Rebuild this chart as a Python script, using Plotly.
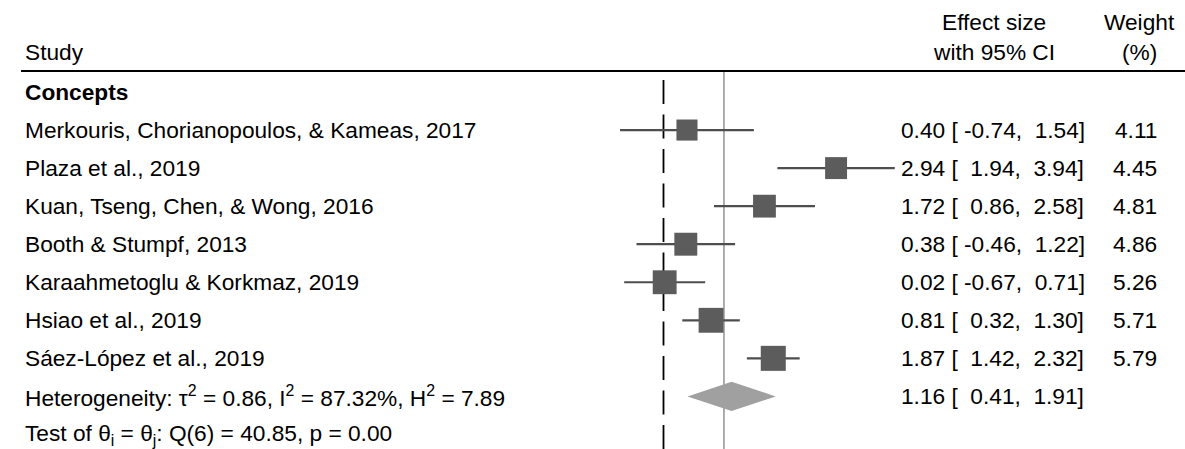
import plotly.graph_objects as go

# ---- data -------------------------------------------------------------
group_label = "Concepts"
studies = [
    "Merkouris, Chorianopoulos, & Kameas, 2017",
    "Plaza et al., 2019",
    "Kuan, Tseng, Chen, & Wong, 2016",
    "Booth & Stumpf, 2013",
    "Karaahmetoglu & Korkmaz, 2019",
    "Hsiao et al., 2019",
    "Sáez-López et al., 2019",
]
effect = [0.40, 2.94, 1.72, 0.38, 0.02, 0.81, 1.87]
ci_low = [-0.74, 1.94, 0.86, -0.46, -0.67, 0.32, 1.42]
ci_high = [1.54, 3.94, 2.58, 1.22, 0.71, 1.30, 2.32]
weight = [4.11, 4.45, 4.81, 4.86, 5.26, 5.71, 5.79]

overall = 1.16
overall_low = 0.41
overall_high = 1.91
heterogeneity_text = "Heterogeneity: τ<sup>2</sup> = 0.86, I<sup>2</sup> = 87.32%, H<sup>2</sup> = 7.89"
test_text = "Test of θ<sub>i</sub> = θ<sub>j</sub>: Q(6) = 40.85, p = 0.00"

null_line = 0.0
ref_line = 1.03

# ---- layout constants -------------------------------------------------
W, H = 1185, 449
FONT = "Liberation Sans, Arial, sans-serif"
FS = 22.7

# x: pixel = 663.5 + 58.7 * value
X0_PX, X_SCALE = 663.5, 58.7
x_range = [(0 - X0_PX) / X_SCALE, (W - X0_PX) / X_SCALE]
# y: rows, pixel = 92 + 38.05 * row (row 0 = group label)
Y0_PX, Y_STEP = 92.0, 38.05
y_range = [(H - Y0_PX) / Y_STEP, (0 - Y0_PX) / Y_STEP]


def row_of(px):
    return (px - Y0_PX) / Y_STEP


study_rows = list(range(1, len(studies) + 1))
overall_row = len(studies) + 1
test_row = len(studies) + 2

fig = go.Figure()

# confidence interval whiskers
cx, cy = [], []
for lo, hi, r in zip(ci_low, ci_high, study_rows):
    cx += [lo, hi, None]
    cy += [r, r, None]
fig.add_trace(go.Scatter(x=cx, y=cy, mode="lines", opacity=1,
                         line=dict(color="#4e4e4e", width=2.2),
                         hoverinfo="skip", showlegend=False))

# weighted squares (area proportional to weight)
fig.add_trace(go.Scatter(
    x=effect, y=study_rows, mode="markers", opacity=1,
    marker=dict(symbol="square", color="#5c5c5c", opacity=1,
                size=[10.4 * w ** 0.5 for w in weight], line=dict(width=0)),
    hoverinfo="skip", showlegend=False))

# overall diamond
dh = 14.7 / Y_STEP
fig.add_trace(go.Scatter(
    x=[overall_low, overall, overall_high, overall, overall_low],
    y=[overall_row, overall_row - dh, overall_row, overall_row + dh, overall_row],
    mode="lines", fill="toself", fillcolor="#a0a0a0",
    line=dict(width=0, color="#a0a0a0"),
    hoverinfo="skip", showlegend=False))

shapes = [
    # header rule
    dict(type="line", xref="paper", yref="y", x0=21 / W, x1=1.0,
         y0=row_of(71), y1=row_of(71), line=dict(color="black", width=2)),
    # dashed line at zero
    dict(type="line", xref="x", yref="y", x0=null_line, x1=null_line,
         y0=row_of(80), y1=y_range[0], layer="below",
         line=dict(color="black", width=1.8, dash="24px,10.5px")),
    # solid reference line
    dict(type="line", xref="x", yref="y", x0=ref_line, x1=ref_line,
         y0=row_of(72), y1=y_range[0], layer="below",
         line=dict(color="#8a8a8a", width=1.4)),
]

ann = []


def text(x_px, row, s, anchor="left", bold=False):
    if bold:
        s = "<b>" + s + "</b>"
    ann.append(dict(xref="paper", yref="y", x=x_px / W, y=row, text=s,
                    showarrow=False, xanchor=anchor, yanchor="middle",
                    font=dict(family=FONT, size=FS, color="black")))


def ci_label(es, lo, hi):
    return f"{es:.2f} [{lo:6.2f},{hi:6.2f}]"


# headers
text(23, row_of(52), "Study")
text(994, row_of(22), "Effect size", "center")
text(994, row_of(52), "with 95% CI", "center")
text(1139.5, row_of(22), "Weight", "center")
text(1139.5, row_of(52), "(%)", "center")

text(23, 0, group_label, bold=True)
for name, es, lo, hi, w, r in zip(studies, effect, ci_low, ci_high, weight, study_rows):
    text(23, r, name)
    text(899, r, ci_label(es, lo, hi))
    text(1159, r, f"{w:.2f}", "right")

text(23, overall_row, heterogeneity_text)
text(899, overall_row, ci_label(overall, overall_low, overall_high))
text(23, test_row, test_text)

fig.update_layout(
    width=W, height=H,
    margin=dict(l=0, r=0, t=0, b=0),
    paper_bgcolor="white", plot_bgcolor="white",
    xaxis=dict(range=x_range, visible=False, fixedrange=True),
    yaxis=dict(range=y_range, visible=False, fixedrange=True),
    shapes=shapes, annotations=ann, showlegend=False,
)

fig.write_html("out.html", config={"displayModeBar": False})
